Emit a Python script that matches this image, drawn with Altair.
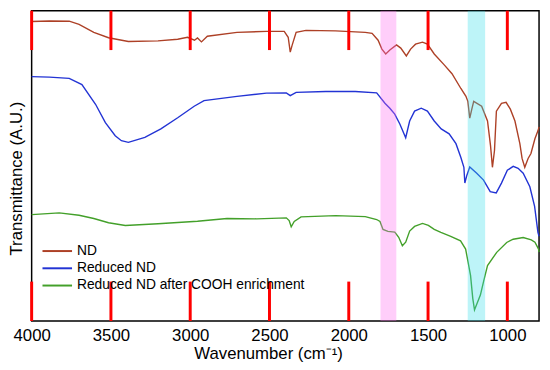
import altair as alt
import pandas as pd

# ---- data (wavenumber in cm^-1, transmittance in arbitrary units) ----
series_names = ["ND", "Reduced ND", "Reduced ND after COOH enrichment"]
series_colors = ["#ad4026", "#2233d4", "#43a02a"]

nd_wn = [4000, 3888, 3763, 3701, 3608, 3515, 3390, 3203, 3079, 3017, 2973, 2954, 2929, 2892,
         2705, 2519, 2407, 2382, 2369, 2357, 2332, 2270, 2083, 1896, 1853, 1815, 1791, 1767,
         1741, 1699, 1672, 1637, 1610, 1579, 1535, 1504, 1461, 1398, 1349, 1293, 1261, 1249,
         1237, 1224, 1212, 1162, 1125, 1106, 1094, 1081, 1069, 1037, 1008, 981, 952, 921, 907,
         890, 869, 851, 826, 807, 800]
nd_t = [304, 304.5, 304.3, 301, 293, 287.5, 283.7, 284.3, 286, 288, 285, 287.3, 283.3, 289,
        293, 294, 294, 288, 273, 280, 293, 295, 294.5, 293, 292, 285, 276, 271,
        275, 280.3, 277, 269, 276, 281, 283, 281, 271, 260, 251, 236, 228, 223,
        206, 215, 223, 218, 203, 178, 156, 173, 213, 221, 222, 215, 203, 180, 165,
        156, 165, 170, 185, 193, 197]

red_wn = [4000, 3888, 3763, 3683, 3597, 3535, 3473, 3434, 3390, 3286, 3185, 3079, 2975, 2913,
          2705, 2519, 2394, 2369, 2332, 2145, 1959, 1824, 1772, 1741, 1710, 1678, 1641, 1616,
          1585, 1543, 1504, 1461, 1417, 1367, 1324, 1293, 1274, 1268, 1255, 1237, 1193, 1150,
          1108, 1070, 1037, 1000, 963, 932, 900, 858, 828, 807, 800]
red_t = [248, 247.5, 246.3, 240, 220, 201.3, 188, 183, 181.3, 186.3, 195, 206.3, 218, 223.7,
         228, 231.3, 231.5, 228.7, 232, 233, 233, 231.5, 221, 216, 210, 200, 186, 203,
         213, 216, 213, 203, 195, 190, 180, 166, 156, 140, 148, 156.3, 150, 143,
         131.3, 130, 140, 153, 157, 155, 150, 136.3, 116.3, 90, 86]

cooh_wn = [4000, 3826, 3701, 3608, 3515, 3409, 3203, 2954, 2768, 2581, 2394, 2376, 2363, 2344,
           2301, 2083, 1896, 1824, 1803, 1784, 1753, 1710, 1685, 1662, 1641, 1616, 1585, 1535,
           1498, 1461, 1419, 1357, 1295, 1263, 1249, 1232, 1218, 1207, 1193, 1170, 1150, 1125,
           1067, 1004, 963, 900, 849, 826, 803, 800]
cooh_t = [108, 109.7, 107.3, 104, 99.7, 97, 98.7, 101.3, 104, 103.7, 104.7, 102, 95.7, 101,
          105.7, 107, 106, 103, 101, 93, 91, 90.3, 85, 76.3, 80, 91.3, 96, 99,
          97, 93, 90, 86, 81.3, 73, 61, 46.3, 23, 11.3, 17, 26.3, 40, 56.3,
          69.7, 79.7, 83, 84.7, 82.3, 80, 73, 70]

band_lo = [1800, 1250]
band_hi = [1700, 1140]
band_fill = ["#ff66ee", "#33dde8"]

tick_values = [4000, 3500, 3000, 2500, 2000, 1500, 1000]

rows = []
for name, wns, ts in zip(series_names, [nd_wn, red_wn, cooh_wn], [nd_t, red_t, cooh_t]):
    for w, t in zip(wns, ts):
        rows.append({"series": name, "wn": w, "t": t})
df = pd.DataFrame(rows)
bands = pd.DataFrame({"lo": band_lo, "hi": band_hi, "fill": band_fill})
ticks_df = pd.DataFrame({"tick": tick_values})

FONT = "Liberation Sans"
W, H = 515, 315
xscale = alt.Scale(domain=[800, 4000], reverse=True, nice=False, zero=False)
yscale = alt.Scale(domain=[0, 315], nice=False, zero=False)

lines = alt.Chart(df).mark_line(strokeWidth=1.4).encode(
    x=alt.X("wn:Q", scale=xscale,
            axis=alt.Axis(values=tick_values, orient="bottom", ticks=False,
                          domain=False, grid=False, format="d",
                          labelFontSize=17, labelPadding=7, labelFlush=False,
                          labelBaseline="top", labelColor="black", labelFont=FONT,
                          title="Wavenumber (cm⁻¹)", titleFontSize=17,
                          titleFontWeight="normal", titleFont=FONT, titleColor="black",
                          titleX=240, titleY=38, titleBaseline="alphabetic",
                          titleAlign="center")),
    y=alt.Y("t:Q", scale=yscale,
            axis=alt.Axis(ticks=False, labels=False, domain=False, grid=False,
                          title="Transmittance (A.U.)", titleFontSize=17,
                          titleFontWeight="normal", titleFont=FONT, titleColor="black",
                          titleAngle=270, titleBaseline="top", titleAlign="center",
                          titleX=-23, titleY=170)),
    color=alt.Color("series:N",
                    scale=alt.Scale(domain=series_names, range=series_colors),
                    legend=alt.Legend(title=None, orient="none", legendX=19, legendY=237,
                                      symbolType="M-3,0H3", symbolSize=100,
                                      symbolStrokeWidth=2, labelFontSize=14,
                                      labelFont=FONT, labelColor="black", labelLimit=500,
                                      labelOffset=13, rowPadding=3.5, padding=0)),
)

rects = alt.Chart(bands).mark_rect(opacity=0.32).encode(
    x=alt.X("lo:Q", scale=xscale),
    x2="hi:Q",
    fill=alt.Fill("fill:N", scale=None),
)

top_ticks = alt.Chart(ticks_df).mark_rule(color="red", strokeWidth=3).encode(
    x=alt.X("tick:Q", scale=xscale),
    y=alt.value(0),
    y2=alt.value(40),
)
bottom_ticks = alt.Chart(ticks_df).mark_rule(color="red", strokeWidth=3).encode(
    x=alt.X("tick:Q", scale=xscale),
    y=alt.value(H - 40),
    y2=alt.value(H),
)

chart = alt.layer(lines, rects, top_ticks, bottom_ticks).properties(
    width=W, height=H,
    autosize=alt.AutoSizeParams(type="none"),
    padding={"left": 24, "top": 0, "right": 3, "bottom": 45},
).configure_view(stroke="black", strokeWidth=1.5)

chart.save("out.html", embed_options={"renderer": "svg", "actions": False})
